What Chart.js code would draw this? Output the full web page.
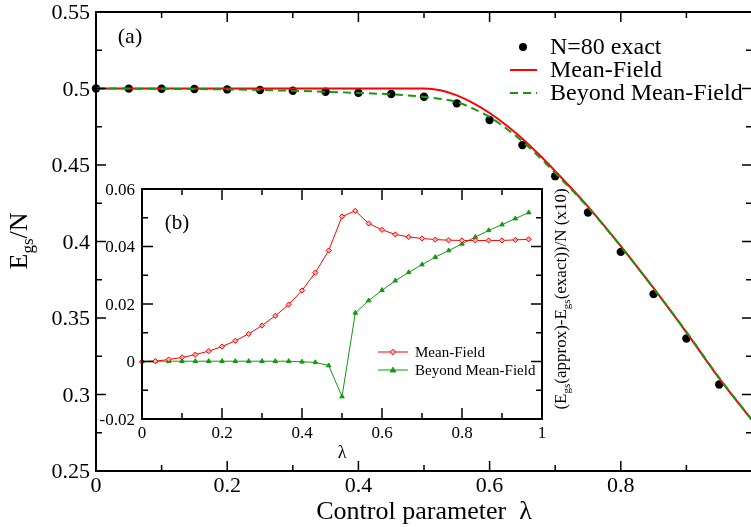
<!DOCTYPE html>
<html>
<head>
<meta charset="utf-8">
<script src="https://cdn.jsdelivr.net/npm/chart.js@4.4.1/dist/chart.umd.min.js"></script>
<style>
  html, body { margin: 0; padding: 0; background: #fff; overflow: hidden; width: 751px; height: 527px; }
  #main { position: absolute; left: 0; top: 0; }
  #inset { position: absolute; left: 96px; top: 175px; }
</style>
</head>
<body>
<canvas id="main" width="770" height="527"></canvas>
<canvas id="inset" width="500" height="300"></canvas>
<script>
// ---- datos del panel principal (a) ----
const lambdaExact = [0, 0.05, 0.1, 0.15, 0.2, 0.25, 0.3, 0.35, 0.4, 0.45, 0.5, 0.55, 0.6, 0.65, 0.7, 0.75, 0.8, 0.85, 0.9, 0.95];
const exactN80 = [0.5000, 0.4999, 0.4998, 0.4997, 0.4994, 0.4990, 0.4985, 0.4979, 0.4972, 0.4964, 0.4946, 0.4903, 0.4794, 0.4630, 0.4427, 0.4190, 0.3932, 0.3656, 0.3366, 0.3065];

const lambdaCurve = [0, 0.1, 0.2, 0.3, 0.4, 0.45, 0.475, 0.5, 0.525, 0.55, 0.575, 0.6, 0.625, 0.65, 0.675, 0.7, 0.75, 0.8, 0.85, 0.9, 0.95, 1.0];
const meanField = [0.5, 0.5, 0.5, 0.5, 0.5, 0.5, 0.5, 0.5, 0.4988, 0.4955, 0.4905, 0.4840, 0.4762, 0.4672, 0.4570, 0.4460, 0.4228, 0.3970, 0.3695, 0.3406, 0.3106, 0.2832];
const beyondMF = [0.5, 0.4998, 0.4994, 0.4985, 0.4971, 0.4962, 0.4955, 0.4945, 0.4932, 0.4912, 0.4868, 0.4814, 0.4740, 0.4654, 0.4556, 0.4448, 0.4224, 0.3968, 0.3694, 0.3410, 0.3109, 0.2834];

// ---- datos del recuadro (b) ----
const lambdaInset = [0, 0.0333, 0.0667, 0.1, 0.1333, 0.1667, 0.2, 0.2333, 0.2667, 0.3, 0.3333, 0.3667, 0.4, 0.4333, 0.4667, 0.5, 0.5333, 0.5667, 0.6, 0.6333, 0.6667, 0.7, 0.7333, 0.7667, 0.8, 0.8333, 0.8667, 0.9, 0.9333, 0.9667];
const diffMF = [0, 0.0001, 0.0007, 0.0014, 0.0024, 0.0036, 0.0052, 0.0072, 0.0096, 0.0125, 0.0159, 0.0198, 0.0247, 0.0309, 0.0386, 0.0504, 0.0524, 0.0480, 0.0458, 0.0442, 0.0433, 0.0428, 0.0424, 0.0422, 0.0421, 0.0421, 0.0421, 0.0421, 0.0423, 0.0425];
const diffBMF = [0, 0.0001, 0.0001, 0.0001, 0.0001, 0.0001, 0.0001, 0.0001, 0.0001, 0.0001, 0.0001, 0.0001, -0.0001, -0.0003, -0.0014, -0.0122, 0.0169, 0.0212, 0.0248, 0.0281, 0.0310, 0.0337, 0.0363, 0.0386, 0.0409, 0.0433, 0.0456, 0.0476, 0.0497, 0.0518];

const legendMain = ['N=80 exact', 'Mean-Field', 'Beyond Mean-Field'];
const legendInset = ['Mean-Field', 'Beyond Mean-Field'];

const FONT = '"Liberation Serif", "Times New Roman", serif';
const RED = '#ff0000';
const GREEN = '#119911';

Chart.defaults.color = '#000';

function pts(xs, ys) {
    return xs.map((x, i) => ({ x: x, y: ys[i] }));
}

function fmt(v) {
    return String(+v.toFixed(2));
}

// texto con subíndices: partes [texto, tamaño, desplazamiento]
function drawParts(ctx, parts, x, y, rot) {
    ctx.save();
    ctx.translate(x, y);
    ctx.rotate(rot);
    ctx.textBaseline = 'alphabetic';
    ctx.textAlign = 'left';
    ctx.fillStyle = '#000';
    let w = 0;
    parts.forEach(p => { ctx.font = p[1] + 'px ' + FONT; w += ctx.measureText(p[0]).width; });
    let cx = -w / 2;
    parts.forEach(p => {
        ctx.font = p[1] + 'px ' + FONT;
        ctx.fillText(p[0], cx, p[2] || 0);
        cx += ctx.measureText(p[0]).width;
    });
    ctx.restore();
}

// marco, marcas hacia dentro en los cuatro lados y etiquetas de las escalas
function drawFrame(chart, opt) {
    const ctx = chart.ctx;
    const a = chart.chartArea;
    const xs = chart.scales.x, ys = chart.scales.y;
    ctx.save();
    ctx.strokeStyle = '#000';
    ctx.lineWidth = 2;
    ctx.strokeRect(a.left, a.top, a.right - a.left, a.bottom - a.top);
    ctx.lineWidth = 1.5;
    const xv = xs.ticks.map(t => t.value);
    const yv = ys.ticks.map(t => t.value);
    const mark = (vals, isX) => {
        vals.forEach((v, i) => {
            const list = [[v, opt.major]];
            if (i < vals.length - 1) list.push([(v + vals[i + 1]) / 2, opt.minor]);
            list.forEach(([val, len]) => {
                ctx.beginPath();
                if (isX) {
                    const p = xs.getPixelForValue(val);
                    ctx.moveTo(p, a.bottom); ctx.lineTo(p, a.bottom - len);
                    ctx.moveTo(p, a.top); ctx.lineTo(p, a.top + len);
                } else {
                    const p = ys.getPixelForValue(val);
                    ctx.moveTo(a.left, p); ctx.lineTo(a.left + len, p);
                    ctx.moveTo(a.right, p); ctx.lineTo(a.right - len, p);
                }
                ctx.stroke();
            });
        });
    };
    mark(xv, true);
    mark(yv, false);

    ctx.fillStyle = '#000';
    ctx.font = opt.size + 'px ' + FONT;
    ctx.textBaseline = 'alphabetic';
    ctx.textAlign = 'center';
    xv.forEach(v => {
        if (opt.xSkip && opt.xSkip(v)) return;
        ctx.fillText(fmt(v), xs.getPixelForValue(v), a.bottom + opt.xBase);
    });
    ctx.textAlign = 'right';
    yv.forEach(v => {
        ctx.fillText(fmt(v), a.left - opt.yGap, ys.getPixelForValue(v) + opt.size * 0.33);
    });
    ctx.restore();
}

const mainDecor = {
    id: 'mainDecor',
    afterDraw(chart) {
        const ctx = chart.ctx;
        drawFrame(chart, { major: 10, minor: 6, size: 22, xBase: 21, yGap: 6, xSkip: v => v > 0.99 });
        drawParts(ctx, [['Control parameter  \u03bb', 26]], 424, 519, 0);
        drawParts(ctx, [['E', 26], ['gs', 17, 6], ['/N', 26]], 27, 241, -Math.PI / 2);
        drawParts(ctx, [['(a)', 22]], 130, 43, 0);
        // leyenda
        ctx.save();
        ctx.font = '24px ' + FONT;
        ctx.textBaseline = 'middle';
        ctx.fillStyle = '#000';
        const rows = [47, 70, 93];
        ctx.beginPath();
        ctx.arc(523, rows[0], 4, 0, Math.PI * 2);
        ctx.fill();
        ctx.lineWidth = 2;
        ctx.strokeStyle = RED;
        ctx.beginPath(); ctx.moveTo(510, rows[1]); ctx.lineTo(537, rows[1]); ctx.stroke();
        ctx.strokeStyle = GREEN;
        ctx.setLineDash([8, 5]);
        ctx.beginPath(); ctx.moveTo(510, rows[2]); ctx.lineTo(537, rows[2]); ctx.stroke();
        ctx.setLineDash([]);
        legendMain.forEach((t, i) => ctx.fillText(t, 550, rows[i] + 1));
        ctx.restore();
    }
};

const hiddenAxis = (w, h) => ({
    type: 'linear',
    afterFit: s => { if (w) s.width = w; if (h) s.height = h; },
    grid: { display: false, drawTicks: false }, border: { display: false },
    ticks: { display: false, autoSkip: false }
});

new Chart(document.getElementById('main'), {
    type: 'line',
    data: {
        datasets: [
            {
                label: legendMain[0], data: pts(lambdaExact, exactN80), showLine: false,
                pointRadius: 4.2, pointBackgroundColor: '#000', pointBorderColor: '#000', pointBorderWidth: 0,
                clip: false, order: 3
            },
            {
                label: legendMain[1], data: pts(lambdaCurve, meanField), borderColor: RED, borderWidth: 2,
                pointRadius: 0, cubicInterpolationMode: 'monotone', order: 2
            },
            {
                label: legendMain[2], data: pts(lambdaCurve, beyondMF), borderColor: GREEN, borderWidth: 2,
                borderDash: [8, 5], pointRadius: 0, cubicInterpolationMode: 'monotone', order: 1
            }
        ]
    },
    options: {
        responsive: false,
        animation: false,
        events: [],
        layout: { padding: { left: 0, top: 12, right: 18, bottom: 0 } },
        plugins: { legend: { display: false }, tooltip: { enabled: false } },
        scales: {
            x: Object.assign(hiddenAxis(0, 56), { min: 0, max: 1, ticks: { display: false, stepSize: 0.2 } }),
            y: Object.assign(hiddenAxis(96, 0), { min: 0.25, max: 0.55, ticks: { display: false, stepSize: 0.05 } })
        }
    },
    plugins: [mainDecor]
});

const insetDecor = {
    id: 'insetDecor',
    afterDraw(chart) {
        const ctx = chart.ctx;
        drawFrame(chart, { major: 11, minor: 6, size: 17, xBase: 19, yGap: 7 });
        drawParts(ctx, [['\u03bb', 18]], 246, 283, 0);
        drawParts(ctx, [['(', 17], ['E', 17], ['gs', 11, 4], ['(approx)-E', 17], ['gs', 11, 4], ['(exact))/N (x10)', 17]],
            470, 124, -Math.PI / 2);
        drawParts(ctx, [['(b)', 21]], 81, 54, 0);
        // leyenda
        ctx.save();
        ctx.font = '15px ' + FONT;
        ctx.textBaseline = 'middle';
        ctx.fillStyle = '#000';
        const rows = [177, 195];
        const cols = [RED, GREEN];
        rows.forEach((y, i) => {
            ctx.strokeStyle = cols[i];
            ctx.lineWidth = 1;
            ctx.beginPath(); ctx.moveTo(282, y); ctx.lineTo(312, y); ctx.stroke();
            ctx.fillStyle = i === 0 ? '#ffb0b0' : GREEN;
            ctx.beginPath();
            if (i === 0) {
                ctx.moveTo(297, y - 2.8); ctx.lineTo(299.8, y); ctx.lineTo(297, y + 2.8); ctx.lineTo(294.2, y);
            } else {
                ctx.moveTo(297, y - 2.8); ctx.lineTo(299.8, y + 2); ctx.lineTo(294.2, y + 2);
            }
            ctx.closePath(); ctx.fill(); ctx.stroke();
            ctx.fillStyle = '#000';
            ctx.fillText(legendInset[i], 319, y + 1);
        });
        ctx.restore();
    }
};

new Chart(document.getElementById('inset'), {
    type: 'line',
    data: {
        datasets: [
            {
                label: legendInset[0], data: pts(lambdaInset, diffMF), borderColor: RED, borderWidth: 1,
                pointStyle: 'rectRot', pointRadius: 2.6, pointBorderColor: RED, pointBackgroundColor: '#ffb0b0',
                pointBorderWidth: 1, clip: false
            },
            {
                label: legendInset[1], data: pts(lambdaInset, diffBMF), borderColor: GREEN, borderWidth: 1,
                pointStyle: 'triangle', pointRadius: 2.6, pointBorderColor: GREEN, pointBackgroundColor: GREEN,
                pointBorderWidth: 1, clip: false
            }
        ]
    },
    options: {
        responsive: false,
        animation: false,
        events: [],
        layout: { padding: { left: 0, top: 14, right: 54, bottom: 0 } },
        plugins: { legend: { display: false }, tooltip: { enabled: false } },
        scales: {
            x: Object.assign(hiddenAxis(0, 56), { min: 0, max: 1, ticks: { display: false, stepSize: 0.2 } }),
            y: Object.assign(hiddenAxis(46, 0), { min: -0.02, max: 0.06, ticks: { display: false, stepSize: 0.02 } })
        }
    },
    plugins: [insetDecor]
});
</script>
</body>
</html>
